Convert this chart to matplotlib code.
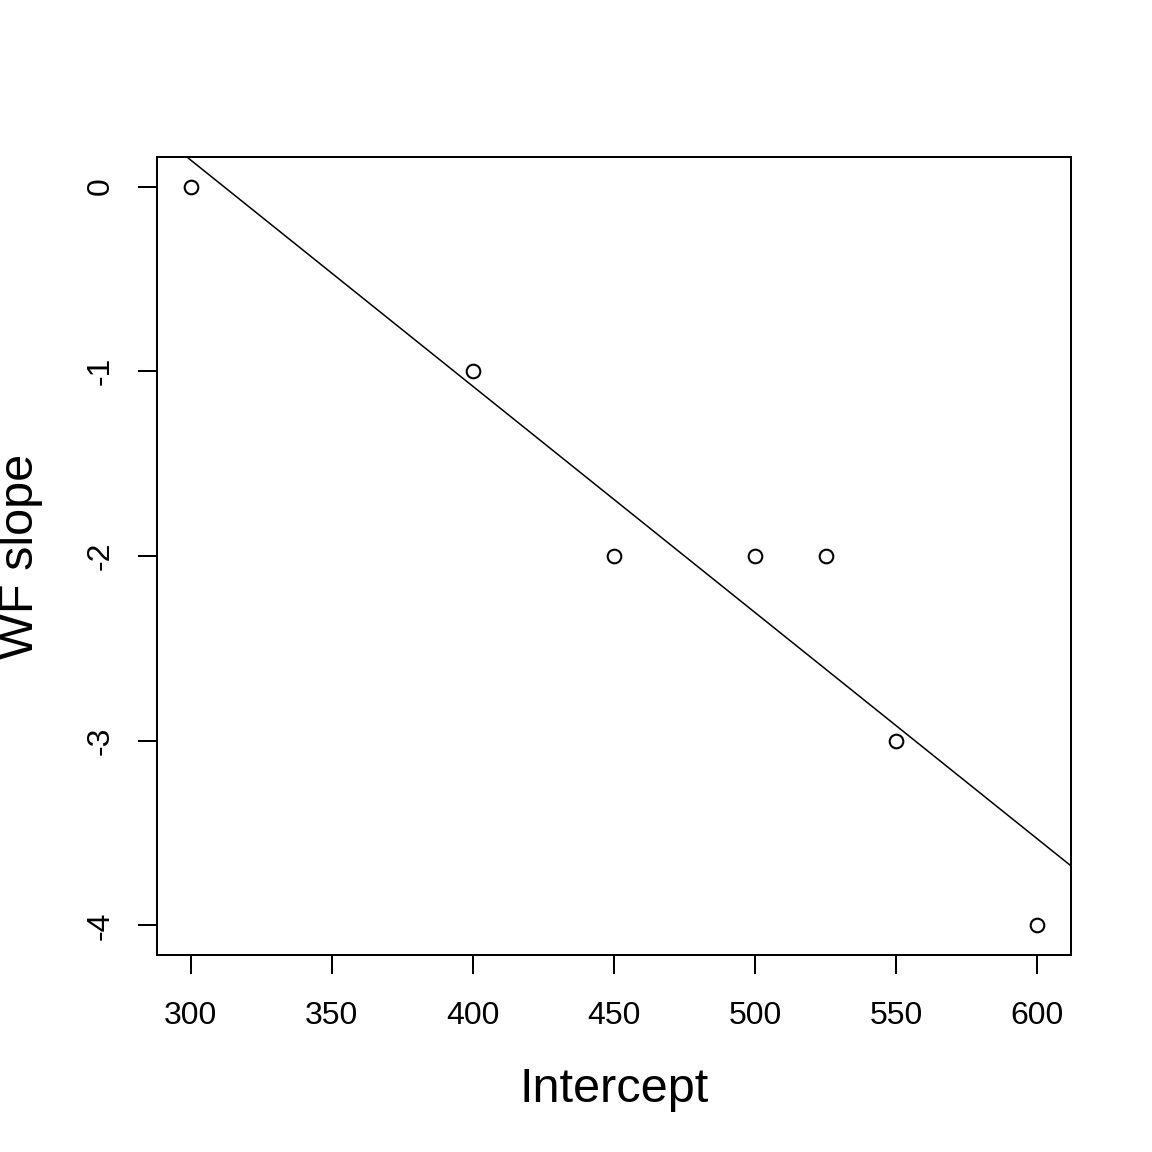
import matplotlib
matplotlib.use("Agg")
import matplotlib.pyplot as plt
import numpy as np

plt.rcParams['font.family'] = ['Liberation Sans', 'DejaVu Sans']

intercept = [300, 400, 450, 500, 525, 550, 600]
wf_slope = [0, -1, -2, -2, -2, -3, -4]
x_ticks = [300, 350, 400, 450, 500, 550, 600]
y_ticks = [0, -1, -2, -3, -4]

W = H = 1152
fig = plt.figure(figsize=(11.52, 11.52), dpi=100)
ax = fig.add_axes([157 / W, 1 - 955 / H, (1071 - 157) / W, (955 - 157) / H])

x = np.array(intercept, dtype=float)
y = np.array(wf_slope, dtype=float)
ax.plot(x, y, linestyle='none', marker='o', markersize=9.8, markerfacecolor='none',
        markeredgecolor='black', markeredgewidth=1.5)

slope, icpt = np.polyfit(x, y, 1)
ax.axline((0, icpt), slope=slope, color='black', linewidth=1.1)

xr = x.max() - x.min()
yr = y.max() - y.min()
ax.set_xlim(x.min() - 0.04 * xr, x.max() + 0.04 * xr)
ax.set_ylim(y.min() - 0.04 * yr, y.max() + 0.04 * yr)

ax.set_xticks(x_ticks)
ax.set_xticklabels([str(t) for t in x_ticks])
ax.set_yticks(y_ticks)
ax.set_yticklabels([str(t) for t in y_ticks], rotation=90, va='center')

for s in ax.spines.values():
    s.set_linewidth(1.45)
ax.tick_params(axis='both', direction='out', length=14, width=1.45, labelsize=23, color='black')
ax.tick_params(axis='x', pad=19)
ax.tick_params(axis='y', pad=16)

fig.text(614 / W, 1 - 1089 / H, 'Intercept', ha='center', va='center', fontsize=35)
fig.text(21 / W, 1 - 556 / H, 'WF slope', ha='center', va='center', rotation=90, fontsize=35)

fig.savefig('out.png', dpi=100, facecolor='white')
